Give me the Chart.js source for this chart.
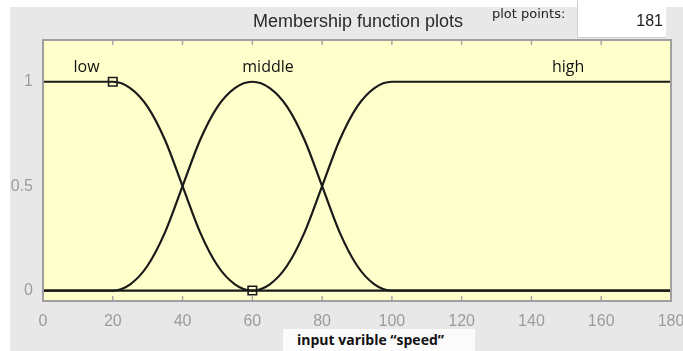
<!DOCTYPE html>
<html>
<head>
<meta charset="utf-8">
<script src="https://cdn.jsdelivr.net/npm/chart.js@4.4.0/dist/chart.umd.min.js"></script>
<style>
  html, body { margin: 0; padding: 0; background: #fff; }
  #wrap { position: relative; width: 683px; height: 351px; overflow: hidden; }
  #mycanvas { position: absolute; left: 0; top: 0; }
  .txt { position: absolute; white-space: nowrap; }
  #title { left: 200px; width: 316px; top: 11px; text-align: center; font: 18px "Liberation Sans", Arial, sans-serif; color: #2a2a2a; }
  #pp { left: 492px; top: 6px; font: 13px "DejaVu Sans", sans-serif; color: #222; }
  #ppbox { left: 577px; top: 0px; width: 88px; height: 37px; background: #fff; border-left: 1px solid #cfcfcf; border-bottom: 1px solid #cfcfcf; }
  #ppval { right: 20px; top: 12px; font: 16px "Liberation Sans", Arial, sans-serif; color: #222; }
  #xbox { left: 283px; top: 329px; width: 192px; height: 22px; background: #fbfbfb; }
  #xlabel { left: 283px; width: 175px; top: 330px; text-align: center; font: bold 14px "Open Sans", sans-serif; color: #111; }
</style>
</head>
<body>
<div id="wrap">
  <canvas id="mycanvas" width="683" height="351"></canvas>
  <div class="txt" id="ppbox"></div>
  <div class="txt" id="title">Membership function plots</div>
  <div class="txt" id="pp">plot points:</div>
  <div class="txt" id="ppval">181</div>
  <div class="txt" id="xbox"></div>
  <div class="txt" id="xlabel">input varible “speed”</div>
</div>
<script>
// values
var lowX = [0, 20, 25, 30, 35, 40, 45, 50, 55, 60, 180];
var lowY = [1, 1, 0.97, 0.88, 0.72, 0.5, 0.28, 0.12, 0.03, 0, 0];

var midX = [0, 20, 25, 30, 35, 40, 45, 50, 55, 60, 65, 70, 75, 80, 85, 90, 95, 100, 180];
var midY = [0, 0, 0.03, 0.12, 0.28, 0.5, 0.72, 0.88, 0.97, 1, 0.97, 0.88, 0.72, 0.5, 0.28, 0.12, 0.03, 0, 0];

var highX = [0, 60, 65, 70, 75, 80, 85, 90, 95, 100, 180];
var highY = [0, 0, 0.03, 0.12, 0.28, 0.5, 0.72, 0.88, 0.97, 1, 1];

var markerX = [20, 60];
var markerY = [1, 0];

var mfNames = ["low", "middle", "high"];
var mfLabelX = [12.5, 64.5, 150.5];
var mfLabelY = 1.07;

var xTicks = [0, 20, 40, 60, 80, 100, 120, 140, 160, 180];
var yTicks = [0, 0.5, 1];

function pts(xs, ys) {
    var out = [];
    for (var i in xs) {
        out.push({x: xs[i], y: ys[i]});
    }
    return out;
}

function line(xs, ys) {
    return {
        data: pts(xs, ys),
        borderColor: "#1a1a1a",
        borderWidth: 2.2,
        pointRadius: 0,
        fill: false,
        cubicInterpolationMode: "monotone",
        showLine: true
    };
}

var frame = {
    id: "frame",
    beforeDraw: function(chart) {
        var c = chart.ctx, a = chart.chartArea;
        c.save();
        c.fillStyle = "#ffffff";
        c.fillRect(0, 0, chart.width, chart.height);
        c.fillStyle = "#e8e8e8";
        c.fillRect(10, 7, chart.width - 10, chart.height - 7);
        c.fillStyle = "#ffffcc";
        c.fillRect(a.left, a.top, a.right - a.left, a.bottom - a.top);
        c.restore();
    },
    afterDatasetsDraw: function(chart) {
        var c = chart.ctx, a = chart.chartArea;
        var xs = chart.scales.x, ys = chart.scales.y;
        c.save();
        // inner tick marks
        c.strokeStyle = "#a8a8a8";
        c.lineWidth = 1.5;
        for (var i = 1; i < xTicks.length - 1; i++) {
            var px = xs.getPixelForValue(xTicks[i]);
            c.beginPath();
            c.moveTo(px, a.top); c.lineTo(px, a.top + 5);
            c.moveTo(px, a.bottom); c.lineTo(px, a.bottom - 5);
            c.stroke();
        }
        // box
        c.strokeStyle = "#a0a0a0";
        c.lineWidth = 2;
        c.strokeRect(a.left, a.top, a.right - a.left, a.bottom - a.top);
        // mf names
        c.fillStyle = "#111";
        c.font = "16px 'Open Sans', sans-serif";
        c.textAlign = "center";
        c.textBaseline = "middle";
        for (var j in mfNames) {
            c.fillText(mfNames[j], xs.getPixelForValue(mfLabelX[j]), ys.getPixelForValue(mfLabelY));
        }
        c.restore();
    }
};

var ctx = document.getElementById("mycanvas");

var chart = new Chart(ctx, {
    type: "scatter",
    data: {
        datasets: [
            line(lowX, lowY),
            line(midX, midY),
            line(highX, highY),
            {
                data: pts(markerX, markerY),
                showLine: false,
                pointStyle: "rect",
                pointRadius: 6,
                pointBorderWidth: 1.6,
                pointBorderColor: "#1a1a1a",
                pointBackgroundColor: "rgba(0,0,0,0)"
            }
        ]
    },
    options: {
        responsive: false,
        animation: false,
        events: [],
        layout: { padding: { left: 10, top: 40, right: 12, bottom: 20 } },
        plugins: { legend: { display: false }, tooltip: { enabled: false } },
        scales: {
            x: {
                type: "linear",
                min: 0,
                max: 180,
                afterBuildTicks: function(s) { s.ticks = xTicks.map(function(v) { return {value: v}; }); },
                afterFit: function(s) { s.height = 30; s.paddingLeft = 0; s.paddingRight = 0; },
                grid: { display: true, drawOnChartArea: false, drawTicks: false },
                border: { display: false },
                ticks: {
                    padding: 11,
                    maxRotation: 0,
                    autoSkip: false,
                    color: "#9c9c9c",
                    font: { family: "'Liberation Sans', Arial, sans-serif", size: 16 },
                    callback: function(v) { return String(v); }
                }
            },
            y: {
                min: -0.05,
                max: 1.2,
                afterBuildTicks: function(s) { s.ticks = yTicks.map(function(v) { return {value: v}; }); },
                afterFit: function(s) { s.width = 33; s.paddingTop = 0; s.paddingBottom = 0; },
                grid: { display: true, drawOnChartArea: false, drawTicks: false },
                border: { display: false },
                ticks: {
                    padding: 10,
                    autoSkip: false,
                    color: "#9c9c9c",
                    font: { family: "'Liberation Sans', Arial, sans-serif", size: 16 },
                    callback: function(v) { return String(v); }
                }
            }
        }
    },
    plugins: [frame]
});
</script>
</body>
</html>
